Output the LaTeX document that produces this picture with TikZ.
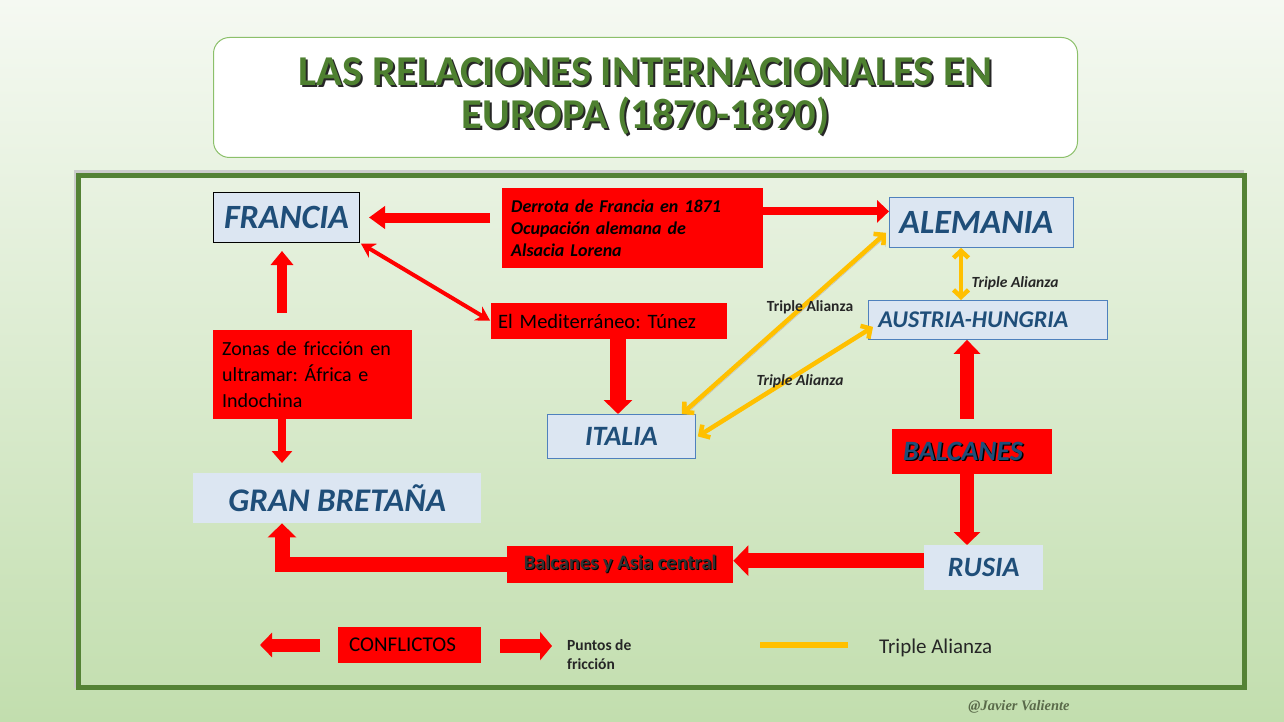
\documentclass[tikz,border=0pt]{standalone}
\usepackage{fontspec}
\setmainfont{Carlito}
\newfontfamily\sigfont{Liberation Serif}
\usetikzlibrary{arrows.meta,calc}
\frenchspacing
\definecolor{bgtop}{HTML}{F5F9F2}
\definecolor{bgbot}{HTML}{C2DEAE}
\definecolor{framegreen}{HTML}{548235}
\definecolor{titlegreen}{HTML}{4E8030}
\definecolor{titleborder}{HTML}{8CC06A}
\definecolor{boxblue}{HTML}{DCE6F2}
\definecolor{boxborder}{HTML}{4F81BD}
\definecolor{textblue}{HTML}{1F4E79}
\definecolor{allyellow}{HTML}{FFC000}
\definecolor{sigcolor}{HTML}{5A6A4A}
\definecolor{labelgray}{HTML}{262626}
\newcommand\shd[3][1.5pt]{\makebox[0pt][l]{\kern#1\raisebox{-#1}{\color{#2}#3}}#3}
\newcommand\fs[2]{\fontsize{#1}{#2}\selectfont}
\tikzset{
  country/.style={fill=boxblue, text=textblue, font=\bfseries\itshape, inner sep=0pt, anchor=north west},
  redbox/.style={fill=red, inner sep=0pt, anchor=north west, text=black},
  rarr/.style n args={3}{draw=red, line width=#1pt, -{Triangle[width=#2pt,length=#3pt]}},
  yarr/.style={draw=allyellow, line width=4.5pt, {Straight Barb[length=7pt,width=15pt]}-{Straight Barb[length=7pt,width=15pt]}},
  talabel/.style={text=labelgray, font=\bfseries\fs{15.5}{18}, inner sep=0pt},
}
\begin{document}
\begin{tikzpicture}[x=1pt,y=-1pt]
\useasboundingbox (0,0) rectangle (1284,722);
\fill[top color=bgtop,bottom color=bgbot] (0,0) rectangle (1284,722);
% title
\node[draw=titleborder, line width=1pt, fill=white, rounded corners=16pt, anchor=north west,
      minimum width=864pt, minimum height=120pt, inner sep=0pt, align=center,
      text=titlegreen, font=\bfseries\fs{42.5}{43}] (title) at (213,37)
  {\shd[2pt]{black!85}{LAS RELACIONES INTERNACIONALES EN}\\ \shd[2pt]{black!85}{EUROPA (1870-1890)}};
% frame
\draw[gray!40, line width=3pt] (75,688) -- (75,172) -- (1244,172);
\draw[framegreen, line width=5pt] (78.5,175.5) rectangle (1244.5,687.5);
% countries
\node[country, draw=black, line width=1pt, minimum width=146pt, minimum height=50pt, font=\bfseries\itshape\fs{34}{40}] (francia) at (213,192) {FRANCIA};
\node[country, draw=boxborder, line width=0.8pt, minimum height=50pt, inner xsep=10pt, text width=164pt, align=left, font=\bfseries\itshape\fs{34}{40}] (alemania) at (889,197) {ALEMANIA};
\node[country, draw=boxborder, line width=0.8pt, minimum height=39pt, inner xsep=10pt, text width=219pt, align=left, font=\bfseries\itshape\fs{24}{28}] (austria) at (868,300) {AUSTRIA-HUNGRIA};
\node[country, draw=boxborder, line width=0.8pt, minimum width=148pt, minimum height=44pt, font=\bfseries\itshape\fs{28}{32}] (italia) at (547,414) {ITALIA};
\node[country, minimum width=288pt, minimum height=50pt, font=\bfseries\itshape\fs{33}{38}] (gb) at (193,473) {GRAN BRETAÑA};
\node[country, minimum width=119pt, minimum height=45pt, font=\bfseries\itshape\fs{28}{33}] (rusia) at (924,545) {RUSIA};
% red boxes
\node[redbox, minimum height=45pt, inner xsep=11pt, text width=138pt, align=left, text=textblue, font=\bfseries\itshape\fs{28}{33}] (balcanes) at (892,429) {\shd{black}{BALCANES}};
\node[redbox, minimum height=80pt, inner xsep=9pt, text width=243pt, align=left, font=\bfseries\itshape\fs{18}{22}] (derrota) at (502,188) {Derrota de Francia en 1871\\Ocupación alemana de\\Alsacia Lorena};
\node[redbox, minimum height=36pt, inner xsep=7pt, text width=222pt, align=left, font=\fs{20.5}{23}] (med) at (491,303) {El Mediterráneo: Túnez};
\node[redbox, minimum height=89pt, inner xsep=9pt, text width=181pt, align=left, font=\fs{20}{26}] (zonas) at (213,330) {Zonas de fricción en\\ultramar: África e\\Indochina};
\node[redbox, minimum width=226pt, minimum height=37pt, text=black!80, font=\bfseries\fs{20.5}{22}] (bya) at (507,546) {\shd[1pt]{black}{Balcanes y Asia central}};
% helper coordinates
\coordinate (zx) at (282,0);
\coordinate (mx) at (618,0);
\coordinate (bx) at (967,0);
\coordinate (ax) at (961,0);
\coordinate (a1) at ([yshift=11pt]alemania.west);
\coordinate (r1) at ([yshift=7pt]rusia.west);
% red arrows
\draw[rarr={10}{22}{16}, shorten <=12pt, shorten >=9pt] (derrota.west |- francia.east) -- (francia.east);
\draw[rarr={8}{22}{12}] (a1 -| derrota.east) -- (a1);
\draw[draw=red, line width=4pt, {Stealth[length=14pt,width=16pt]}-{Stealth[length=14pt,width=16pt]}, shorten <=1pt, shorten >=1pt] (francia.south east) -- (med.west);
\draw[rarr={10}{22}{14}, shorten <=17pt, shorten >=8pt] (zx |- zonas.north) -- (zx |- francia.south);
\draw[rarr={8}{20}{12}, shorten >=10pt] (zx |- zonas.south) -- (zx |- gb.north);
\draw[rarr={16}{28}{14}] (mx |- med.south) -- (mx |- italia.north);
\draw[rarr={14}{26}{14}, shorten <=10pt] (bx |- balcanes.north) -- (bx |- austria.south);
\draw[rarr={14}{26}{13}] (bx |- balcanes.south) -- (bx |- rusia.north);
\draw[rarr={15}{30}{15}] (r1) -- (r1 -| bya.east);
\draw[rarr={15}{28}{14}, line join=miter] (bya.west) -- (zx |- bya.west) -- (zx |- gb.south);
% triple alliance arrows
\draw[yarr, preaction={draw=gray!55, transform canvas={shift={(2pt,-2pt)}}}] ([xshift=-14pt]italia.north east) -- ([xshift=-3pt,yshift=15pt]alemania.south west);
\draw[yarr] ([xshift=2pt]italia.east) -- ([xshift=5pt,yshift=-7pt]austria.west);
\draw[yarr] (ax |- alemania.south) -- (ax |- austria.north);
\node[talabel] (ta1) at (810,307) {Triple Alianza};
\node[talabel, font=\bfseries\itshape\fs{15.5}{18}] (ta2) at (1015,283) {Triple Alianza};
\node[talabel, font=\bfseries\itshape\fs{15.5}{18}] (ta3) at (800,381) {Triple Alianza};
% legend
\node[redbox, minimum height=36pt, inner xsep=11pt, text width=121pt, align=left, font=\fs{21}{23}] (conf) at (338,627) {CONFLICTOS};
\coordinate (l1) at (260,645);
\coordinate (l2) at (552,646);
\draw[rarr={13}{24}{12}, shorten <=18pt] (conf.west |- l1) -- (l1);
\draw[rarr={14}{28}{12}, shorten <=19pt] (conf.east |- l2) -- (l2);
\node[anchor=west, inner sep=0pt, align=left, text=black!85, font=\bfseries\fs{15.5}{19}] (puntos) at (567,655) {Puntos de\\fricción};
\coordinate (y1) at (760,645);
\coordinate (y2) at (848,645);
\draw[allyellow, line width=6pt] (y1) -- (y2);
\node[anchor=west, inner sep=0pt, text=black!85, font=\fs{21}{23}] (legta) at (879,648) {Triple Alianza};
\node[inner sep=0pt, text=sigcolor, font=\sigfont\bfseries\itshape\fs{14.5}{16}] (sig) at (1019,707) {@Javier Valiente};
\end{tikzpicture}
\end{document}
